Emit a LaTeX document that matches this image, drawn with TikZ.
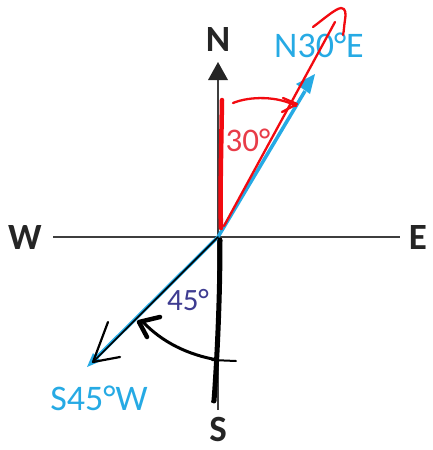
\documentclass[tikz,border=0pt]{standalone}
\usepackage{fontspec}
\setmainfont{Carlito}
\definecolor{axisgray}{RGB}{62,62,62}
\definecolor{skyblue}{RGB}{38,170,228}
\definecolor{darkviolet}{RGB}{62,60,145}
\definecolor{penred}{RGB}{242,10,16}
\definecolor{labelred}{RGB}{232,60,72}
\begin{document}
\begin{tikzpicture}[x=1pt,y=-1pt,
  compass/.style={font=\fontsize{37}{37}\selectfont\bfseries, text=axisgray!60!black, inner sep=0pt},
  bluelabel/.style={font=\fontsize{36}{36}\selectfont, text=skyblue, inner sep=0pt},
  axis/.style={draw=axisgray, line width=2.6pt},
  bluevec/.style={draw=skyblue, line width=3.5pt},
  redpen/.style={draw=penred, line cap=round, line join=round},
  blackpen/.style={draw=black, line cap=round, line join=round}]
\useasboundingbox (0,0) rectangle (432,450);
% named points
\coordinate (O) at (218,237);
\coordinate (Wend) at (53,237);
\coordinate (Eend) at (400,237);
\coordinate (Nbase) at (218,80);
\coordinate (Ntip) at (218,62);
\coordinate (Send) at (218,410);
\coordinate (NEtip) at (315,74);
\coordinate (SWtip) at (90,364);
% labels
\node[compass] (N) at (218,40) {N};
\node[compass] (S) at (218,429) {S};
\node[compass] (W) at (25,238) {W};
\node[compass] (E) at (418,238) {E};
\node[bluelabel] (ne) at (319,45) {N30°E};
\node[bluelabel] (sw) at (99,398) {S45°W};
\node[font=\fontsize{31}{31}\selectfont, text=darkviolet, inner sep=0pt] (a45) at (188,300) {45°};
\node[font=\fontsize{33}{33}\selectfont, text=labelred, inner sep=0pt] (a30) at (248,140) {30°};
% axes
\draw[axis] (Wend) -- (Eend);
\draw[axis] (Nbase) -- (Send);
\fill[axisgray!60!black] (Ntip) -- (208,80) -- (228,80) -- cycle;
% blue vectors
\draw[bluevec] (O) -- (305,91);
\fill[skyblue] (NEtip) -- (296,84) -- (310,94) -- cycle;
\draw[bluevec] (O) -- (SWtip);
\fill[skyblue] (87,367) -- (93,353) -- (101,361) -- cycle;
% red pen strokes
\coordinate (r1) at (222,100);
\coordinate (r2) at (221,228);
\draw[redpen, line width=4.5pt] (r1) .. controls (221,160) and (220,200) .. (r2);
\coordinate (r3) at (224,226);
\coordinate (r4) at (335,22);
\draw[redpen, line width=2.3pt] (r3) -- (r4);
\draw[redpen, line width=2.3pt] (313,27) .. controls (325,18) and (335,9) .. (341,8)
  .. controls (346,8) and (346,14) .. (345,20) .. controls (344,26) and (344,31) .. (343,35);
\coordinate (ra1) at (233,103);
\coordinate (ra2) at (296,106);
\draw[redpen, line width=2.3pt] (ra1) .. controls (250,96) and (278,96) .. (ra2);
\draw[redpen, line width=2.3pt] (283,98) -- (297,104) -- (282,112);
% black pen strokes
\coordinate (b1) at (220,240);
\coordinate (b2) at (214,401);
\draw[blackpen, line width=5pt] (b1) .. controls (220,300) and (217,360) .. (b2);
\draw[blackpen, line width=1.8pt] (216,392) -- (212,402);
\coordinate (t1) at (212,360);
\coordinate (t2) at (236,361);
\draw[blackpen, line width=2pt] (t1) -- (t2);
\coordinate (ba1) at (218,360);
\coordinate (ba2) at (143,322);
\draw[blackpen, line width=3pt] (ba1) .. controls (188,355) and (162,342) .. (ba2);
\draw[blackpen, line width=4.5pt] (160,317) -- (139,322) -- (147,337);
\coordinate (bs2) at (93,362);
\draw[blackpen, line width=1.6pt] (O) -- (bs2);
\draw[blackpen, line width=2.2pt] (108,322) -- (93,362) -- (120,357);
\end{tikzpicture}
\end{document}
